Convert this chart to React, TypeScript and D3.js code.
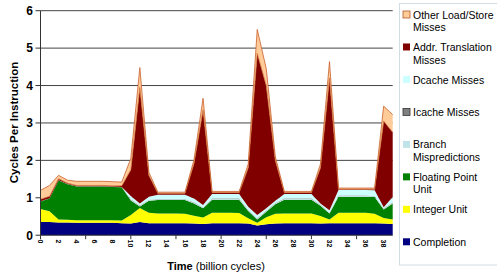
import { useEffect, useRef } from "react";
import * as d3 from "d3";

// time axis (billion cycles)
const times = d3.range(0, 40);
const tickLabels = d3.range(0, 40, 2);
const yTicks = [0, 1, 2, 3, 4, 5, 6];

// series values, bottom of the stack first
const completion = [0.35, 0.35, 0.34, 0.34, 0.33, 0.33, 0.33, 0.33, 0.33, 0.32, 0.31, 0.35, 0.32, 0.32, 0.32, 0.32, 0.32, 0.31, 0.3, 0.32, 0.32, 0.32, 0.32, 0.31, 0.26, 0.29, 0.31, 0.32, 0.32, 0.32, 0.32, 0.31, 0.32, 0.32, 0.32, 0.32, 0.32, 0.32, 0.31, 0.3];
const integerUnit = [0.35, 0.29, 0.08, 0.07, 0.07, 0.07, 0.07, 0.07, 0.07, 0.07, 0.23, 0.38, 0.28, 0.26, 0.26, 0.26, 0.25, 0.21, 0.17, 0.28, 0.28, 0.28, 0.27, 0.14, 0.07, 0.19, 0.26, 0.26, 0.26, 0.26, 0.26, 0.2, 0.1, 0.28, 0.28, 0.28, 0.28, 0.25, 0.15, 0.12];
const floatingPoint = [0.2, 0.34, 1.04, 0.95, 0.9, 0.9, 0.9, 0.9, 0.89, 0.89, 0.39, 0.04, 0.32, 0.36, 0.36, 0.36, 0.37, 0.33, 0.25, 0.35, 0.35, 0.35, 0.36, 0.2, 0.09, 0.15, 0.26, 0.37, 0.37, 0.37, 0.37, 0.28, 0.16, 0.43, 0.43, 0.43, 0.43, 0.45, 0.23, 0.43];
const branchMispred = [0, 0, 0, 0, 0, 0, 0, 0, 0, 0, 0.02, 0.02, 0.02, 0.02, 0.02, 0.02, 0.02, 0.02, 0.02, 0.02, 0.02, 0.02, 0.02, 0.02, 0.02, 0.02, 0.02, 0.02, 0.02, 0.02, 0.02, 0.02, 0.02, 0.02, 0.02, 0.02, 0.02, 0.02, 0.02, 0.02];
const icacheMisses = [0.01, 0.01, 0.01, 0.01, 0.01, 0.01, 0.01, 0.01, 0.01, 0.01, 0.01, 0.01, 0.01, 0.01, 0.01, 0.01, 0.01, 0.01, 0.01, 0.01, 0.01, 0.01, 0.01, 0.01, 0.01, 0.01, 0.01, 0.01, 0.01, 0.01, 0.01, 0.01, 0.01, 0.01, 0.01, 0.01, 0.01, 0.01, 0.01, 0.01];
const dcacheMisses = [0, 0, 0, 0, 0, 0, 0, 0, 0, 0, 0.09, 0.05, 0.08, 0.11, 0.11, 0.11, 0.11, 0.1, 0.06, 0.12, 0.12, 0.12, 0.12, 0.08, 0.09, 0.06, 0.06, 0.12, 0.12, 0.12, 0.12, 0.03, 0.06, 0.15, 0.15, 0.15, 0.15, 0.15, 0.03, 0.14];
const addrTranslation = [0.05, 0.05, 0.04, 0.02, 0.02, 0.02, 0.02, 0.02, 0.02, 0.03, 0.7, 3.1, 0.57, 0.04, 0.04, 0.04, 0.04, 0.94, 2.54, 0.04, 0.04, 0.04, 0.04, 1.04, 4.32, 3.28, 1.08, 0.04, 0.04, 0.04, 0.04, 0.95, 3.53, 0.02, 0.02, 0.02, 0.02, 0.03, 2.3, 1.73];
const otherLoadStore = [0.24, 0.29, 0.09, 0.08, 0.11, 0.11, 0.11, 0.11, 0.11, 0.1, 0.3, 0.53, 0.08, 0.03, 0.03, 0.03, 0.03, 0.1, 0.31, 0.03, 0.03, 0.03, 0.03, 0.1, 0.64, 0.45, 0.1, 0.03, 0.03, 0.03, 0.03, 0.1, 0.44, 0.03, 0.03, 0.03, 0.03, 0.03, 0.4, 0.47];

const seriesNames = ["Completion", "Integer Unit", "Floating Point Unit", "Branch Mispredictions", "Icache Misses", "Dcache Misses", "Addr. Translation Misses", "Other Load/Store Misses"];
const seriesValues = [completion, integerUnit, floatingPoint, branchMispred, icacheMisses, dcacheMisses, addrTranslation, otherLoadStore];
const colors = ["#000080", "#ffff00", "#008000", "#bfe3e8", "#808080", "#ccffff", "#800000", "#ffcc99"];

// legend, top to bottom, with the wrapped lines
const legendLines = [
  ["Other Load/Store", "Misses"],
  ["Addr. Translation", "Misses"],
  ["Dcache Misses"],
  ["Icache Misses"],
  ["Branch", "Mispredictions"],
  ["Floating Point", "Unit"],
  ["Integer Unit"],
  ["Completion"],
];

const App = () => {
  const svgRef = useRef<SVGSVGElement | null>(null);

  useEffect(() => {
    const w = 497;
    const h = 275;
    const svg = d3.select(svgRef.current);
    svg.selectAll("*").remove();
    svg.attr("width", w).attr("height", h);

    const font = "'Liberation Sans', Arial, sans-serif";

    const x = d3.scaleLinear().domain([0, 39]).range([40.5, 392.7]);
    const y = d3.scaleLinear().domain([0, 6]).range([235.2, 10.7]);

    // stacked data
    const rows = times.map((t, i) => {
      const r: any = { t };
      seriesNames.forEach((n, k) => (r[n] = seriesValues[k][i]));
      return r;
    });
    const stacked = d3.stack().keys(seriesNames)(rows);

    // gridlines
    svg
      .append("g")
      .selectAll("line")
      .data(yTicks.slice(1))
      .join("line")
      .attr("x1", x(0))
      .attr("x2", x(39))
      .attr("y1", (d) => y(d))
      .attr("y2", (d) => y(d))
      .attr("stroke", "#444")
      .attr("stroke-width", 1);

    const area = d3
      .area()
      .x((d: any) => x(d.data.t))
      .y0((d: any) => y(d[0]))
      .y1((d: any) => y(d[1]));

    svg
      .append("g")
      .selectAll("path")
      .data(stacked)
      .join("path")
      .attr("d", (d: any) => area(d))
      .attr("fill", (d, i) => colors[i]);

    // edges on the two memory series
    const topLine = d3
      .line()
      .x((d: any) => x(d.data.t))
      .y((d: any) => y(d[1]));
    svg
      .append("g")
      .selectAll("path")
      .data([stacked[6], stacked[7]])
      .join("path")
      .attr("d", (d: any) => topLine(d))
      .attr("fill", "none")
      .attr("stroke", (d, i) => (i === 0 ? "#d0703a" : "#c8602c"))
      .attr("stroke-width", 0.8);

    // axes
    const yAxis = svg.append("g");
    yAxis
      .append("line")
      .attr("x1", x(0))
      .attr("x2", x(0))
      .attr("y1", y(6))
      .attr("y2", y(0))
      .attr("stroke", "#333");
    yAxis
      .selectAll(".tk")
      .data(yTicks)
      .join("line")
      .attr("x1", x(0) - 5)
      .attr("x2", x(0))
      .attr("y1", (d) => y(d))
      .attr("y2", (d) => y(d))
      .attr("stroke", "#333");
    yAxis
      .selectAll("text")
      .data(yTicks)
      .join("text")
      .attr("x", 33)
      .attr("y", (d) => y(d))
      .attr("dy", "0.36em")
      .attr("text-anchor", "end")
      .attr("font-family", font)
      .attr("font-weight", "bold")
      .attr("font-size", 12)
      .text((d) => d);

    const xAxis = svg.append("g");
    xAxis
      .append("line")
      .attr("x1", x(0))
      .attr("x2", x(39))
      .attr("y1", y(0))
      .attr("y2", y(0))
      .attr("stroke", "#333");
    xAxis
      .selectAll(".tk")
      .data(d3.range(0, 40, 5))
      .join("line")
      .attr("x1", (d) => x(d))
      .attr("x2", (d) => x(d))
      .attr("y1", y(0))
      .attr("y2", y(0) + 4)
      .attr("stroke", "#333");
    xAxis
      .selectAll("text")
      .data(tickLabels)
      .join("text")
      .attr("transform", (d) => `translate(${x(d)},239.5) rotate(90)`)
      .attr("dy", "0.35em")
      .attr("font-family", font)
      .attr("font-weight", "bold")
      .attr("font-size", 7)
      .text((d) => d);

    // axis titles
    svg
      .append("text")
      .attr("transform", "translate(18,122.5) rotate(-90)")
      .attr("text-anchor", "middle")
      .attr("font-family", font)
      .attr("font-weight", "bold")
      .attr("font-size", 11.5)
      .text("Cycles Per Instruction");

    const xt = svg
      .append("text")
      .attr("x", 216)
      .attr("y", 270)
      .attr("text-anchor", "middle")
      .attr("font-family", font)
      .attr("font-size", 11);
    xt.append("tspan").attr("font-weight", "bold").text("Time");
    xt.append("tspan").text(" (billion cycles)");

    // legend
    const lg = svg.append("g");
    lg.append("rect")
      .attr("x", 399.5)
      .attr("y", 3.5)
      .attr("width", 110)
      .attr("height", 261.5)
      .attr("fill", "white")
      .attr("stroke", "#d0dde4");
    const legendColors = colors.slice().reverse();
    legendLines.forEach((lines, i) => {
      const top = 11 + i * 32.47;
      const col = legendColors[i];
      lg.append("rect")
        .attr("x", 403)
        .attr("y", top)
        .attr("width", 7)
        .attr("height", 7)
        .attr("fill", col)
        .attr("stroke", i === 0 ? "#b05a2a" : i === 3 ? "#333" : "none")
        .attr("stroke-width", 0.8);
      lines.forEach((ln, j) => {
        lg.append("text")
          .attr("x", 413)
          .attr("y", top + 7.6 + j * 12.5)
          .attr("font-family", font)
          .attr("font-size", 10.5)
          .attr("fill", "#000")
          .text(ln);
      });
    });
  }, []);

  return (
    <div style={{ position: "absolute", left: 0, top: 0 }}>
      <svg ref={svgRef} style={{ display: "block", background: "#fff" }}></svg>
    </div>
  );
};

export default App;
